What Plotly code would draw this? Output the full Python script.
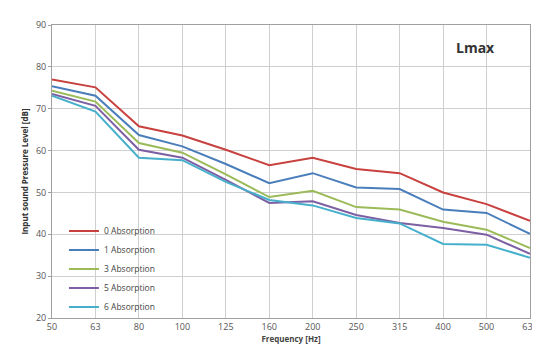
import plotly.graph_objects as go

freqs = ["50", "63", "80", "100", "125", "160", "200", "250", "315", "400", "500", "630"]
abs0 = [77.0, 75.1, 65.8, 63.6, 60.2, 56.5, 58.3, 55.6, 54.6, 50.0, 47.2, 43.2]
abs1 = [75.4, 73.1, 63.7, 61.0, 56.8, 52.2, 54.6, 51.2, 50.8, 45.9, 45.1, 40.1]
abs3 = [74.3, 71.7, 61.8, 59.5, 54.3, 48.9, 50.4, 46.5, 45.9, 43.0, 41.1, 36.7]
abs5 = [73.5, 70.7, 60.2, 58.3, 53.0, 47.5, 47.9, 44.6, 42.7, 41.5, 39.9, 35.3]
abs6 = [73.1, 69.3, 58.3, 57.7, 52.5, 48.2, 46.9, 43.9, 42.6, 37.7, 37.5, 34.4]
series_names = ["0 Absorption", "1 Absorption", "3 Absorption", "5 Absorption", "6 Absorption"]
colors = ["#C8413E", "#4A7EBB", "#9BBB59", "#7D5FA3", "#46B0CC"]
yticks = [20, 30, 40, 50, 60, 70, 80, 90]

fig = go.Figure()
xs = list(range(len(freqs)))
for name, vals, col in zip(series_names, [abs0, abs1, abs3, abs5, abs6], colors):
    fig.add_trace(go.Scatter(x=xs, y=vals, mode="lines", name=name,
                             line=dict(color=col, width=2)))

fig.update_layout(
    width=540, height=346,
    margin=dict(l=44, r=10, t=12, b=36),
    paper_bgcolor="white", plot_bgcolor="white",
    font=dict(family="Open Sans, Arial, sans-serif", size=9, color="#555555"),
    showlegend=True,
    legend=dict(x=0.025, y=-0.012, xanchor="left", yanchor="bottom",
                bgcolor="rgba(255,255,255,0)", font=dict(size=8.5, color="#444444"),
                tracegroupgap=0, itemwidth=30),
    annotations=[dict(text="<b>Lmax</b>", x=0.887, y=0.923, xref="paper", yref="paper",
                      xanchor="center", yanchor="middle",
                      showarrow=False, font=dict(size=14, color="#333333"))],
)
fig.update_xaxes(
    tickmode="array", tickvals=xs, ticktext=freqs, range=[0, len(freqs) - 1],
    showgrid=True, gridcolor="#CFCFCF", gridwidth=1,
    showline=True, linecolor="#A0A0A0", mirror=True,
    ticks="", tickfont=dict(size=9, color="#555555"),
    title=dict(text="<b>Frequency [Hz]</b>", font=dict(size=8, color="#444444"), standoff=4),
    zeroline=False,
)
fig.update_yaxes(
    tickmode="array", tickvals=yticks, range=[20, 90],
    showgrid=True, gridcolor="#CFCFCF", gridwidth=1,
    showline=True, linecolor="#A0A0A0", mirror=True,
    ticks="outside", ticklen=3, tickcolor="#A0A0A0",
    tickfont=dict(size=9, color="#555555"),
    title=dict(text="<b>Input sound Pressure Level [dB]</b>", font=dict(size=8, color="#333333"), standoff=6),
    zeroline=False,
)
fig.write_html("out.html")
